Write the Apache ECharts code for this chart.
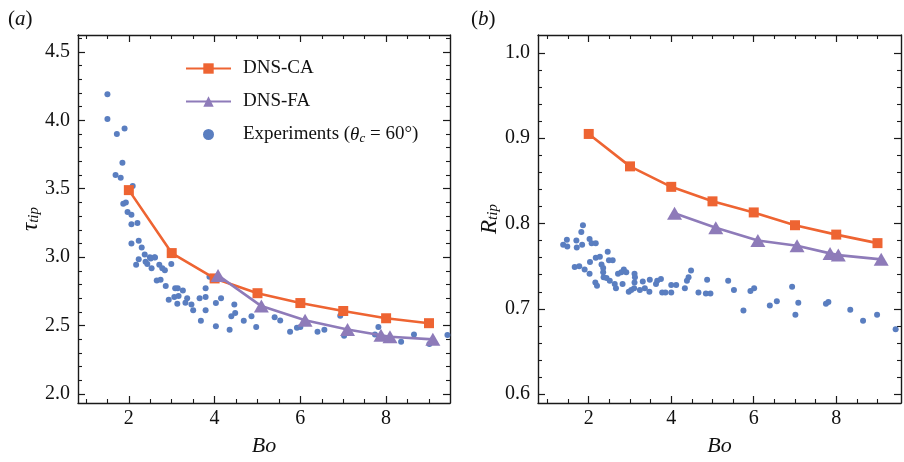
<!DOCTYPE html>
<html><head><meta charset="utf-8">
<script src="https://cdn.jsdelivr.net/npm/echarts@6/dist/echarts.min.js"></script>
<style>html,body{margin:0;padding:0;background:#fff}#c{width:904px;height:462px}</style>
</head><body><div id="c"></div>
<script>
// ---- Panel (a): tau_tip vs Bo ----
const boCA_a = [2, 3, 4, 5, 6, 7, 8, 9];
const tauCA = [3.49, 3.03, 2.845, 2.737, 2.665, 2.607, 2.554, 2.518];
const boFA_a = [4.08, 5.09, 6.11, 7.10, 7.88, 8.09, 9.09];
const tauFA = [2.867, 2.643, 2.54, 2.472, 2.43, 2.419, 2.40];
const expBo_a = [1.50,1.50,1.72,1.90,1.85,1.69,1.81,2.09,1.87,1.93,1.97,2.06,2.06,2.20,2.06,2.23,2.30,2.37,2.49,2.60,
  2.23,2.17,2.39,2.43,2.51,2.61,2.53,2.71,2.78,2.84,2.99,2.65,2.74,2.86,3.08,3.14,3.26,2.93,3.06,3.16,3.13,3.36,3.32,3.46,3.50,3.65,3.79,3.79,3.88,3.79,3.68,4.03,4.15,4.03,4.35,4.46,4.39,4.48,4.68,4.86,4.97,
  5.40,5.53,5.76,5.92,6.00,6.40,6.56,6.93,7.02,7.82,7.74,8.35,8.65,9.01,9.43];
const expTau = [4.19,4.01,3.90,3.94,3.69,3.60,3.58,3.52,3.39,3.40,3.33,3.31,3.24,3.25,3.10,3.12,3.07,3.02,3.00,3.00,
  2.985,2.944,2.966,2.95,2.99,2.997,2.92,2.944,2.92,2.905,2.95,2.829,2.836,2.79,2.773,2.773,2.757,2.689,2.71,2.717,2.66,2.70,2.667,2.655,2.612,2.70,2.71,2.773,2.858,2.612,2.535,2.665,2.70,2.496,2.47,2.655,2.569,2.593,2.535,2.569,2.49,
  2.561,2.537,2.455,2.484,2.491,2.455,2.47,2.573,2.426,2.491,2.436,2.383,2.436,2.366,2.431];

// ---- Panel (b): R_tip vs Bo ----
const boCA_b = [2, 3, 4, 5, 6, 7, 8, 9];
const rCA = [0.905, 0.867, 0.843, 0.826, 0.813, 0.798, 0.787, 0.777];
const boFA_b = [4.08, 5.08, 6.10, 7.05, 7.85, 8.05, 9.09];
const rFA = [0.812, 0.795, 0.780, 0.774, 0.765, 0.763, 0.758];
const expBo_b = [1.38,1.48,1.47,1.70,1.71,1.82,1.86,1.84,2.02,2.07,2.17,1.66,1.77,1.90,2.03,2.02,2.17,2.27,2.46,2.49,2.58,2.31,2.35,2.35,2.36,2.43,2.16,2.20,2.51,2.63,2.66,2.71,2.79,2.85,2.91,2.82,2.97,3.03,3.11,3.12,3.11,3.10,3.24,3.31,3.36,3.48,3.47,3.66,3.75,3.63,3.78,3.86,4.00,4.12,4.00,4.33,4.38,4.42,4.48,4.66,4.87,4.84,4.95,
  5.38,5.52,5.75,5.92,6.01,6.39,6.56,6.93,7.08,7.01,7.75,7.81,8.34,8.65,8.99,9.44];
const expR = [0.775,0.773,0.781,0.780,0.772,0.790,0.798,0.775,0.782,0.777,0.777,0.749,0.750,0.746,0.755,0.741,0.760,0.761,0.767,0.757,0.757,0.752,0.748,0.743,0.737,0.736,0.731,0.727,0.733,0.729,0.724,0.741,0.743,0.746,0.743,0.729,0.720,0.722,0.741,0.737,0.731,0.724,0.722,0.732,0.724,0.734,0.720,0.733,0.735,0.729,0.719,0.719,0.728,0.728,0.719,0.724,0.733,0.737,0.745,0.719,0.734,0.718,0.718,
  0.733,0.722,0.698,0.721,0.724,0.704,0.709,0.726,0.707,0.693,0.706,0.708,0.699,0.686,0.693,0.676];

// ---- Tick values ----
const xMajor = [2, 4, 6, 8];
const xMinor = [1, 1.5, 2.5, 3, 3.5, 4.5, 5, 5.5, 6.5, 7, 7.5, 8.5, 9];
const yMajorA = [2.0, 2.5, 3.0, 3.5, 4.0, 4.5];
const yMinorA = [2.1,2.2,2.3,2.4,2.6,2.7,2.8,2.9,3.1,3.2,3.3,3.4,3.6,3.7,3.8,3.9,4.1,4.2,4.3,4.4,4.6];
const yMajorB = [0.6, 0.7, 0.8, 0.9, 1.0];
const yMinorB = [0.62,0.64,0.66,0.68,0.72,0.74,0.76,0.78,0.82,0.84,0.86,0.88,0.92,0.94,0.96,0.98];

const FONT = "'Liberation Serif', 'DejaVu Serif', serif";
const AX = '#1a1a1a';
const ORANGE = '#EE6432';
const PURPLE = '#8E7BB9';
const BLUE = '#5A7EC0';

const zip = (xs, ys) => xs.map((x, i) => [x, ys[i]]);

function xAxes(grid, min, max) {
  const base = {gridIndex: grid, type: 'value', min: min, max: max, splitLine: {show: false}, scale: true};
  const line = {show: true, onZero: false, lineStyle: {color: AX, width: 1.4}};
  return [
    Object.assign({}, base, {position: 'bottom', axisLine: line,
      axisTick: {show: true, inside: true, length: 7, customValues: xMajor, lineStyle: {color: AX, width: 1.2}},
      axisLabel: {show: true, customValues: xMajor, margin: 6, color: '#111', fontFamily: FONT, fontSize: 20},
      name: 'Bo', nameLocation: 'middle', nameGap: 32, nameMoveOverlap: false,
      nameTextStyle: {fontFamily: FONT, fontSize: 22, fontStyle: 'italic', color: '#111'}}),
    Object.assign({}, base, {position: 'bottom', axisLine: {show: false, onZero: false},
      axisTick: {show: true, inside: true, length: 4, customValues: xMinor, lineStyle: {color: AX, width: 1.1}},
      axisLabel: {show: false}}),
    Object.assign({}, base, {position: 'top', axisLine: line,
      axisTick: {show: true, inside: true, length: 7, customValues: xMajor, lineStyle: {color: AX, width: 1.2}},
      axisLabel: {show: false}}),
    Object.assign({}, base, {position: 'top', axisLine: {show: false, onZero: false},
      axisTick: {show: true, inside: true, length: 4, customValues: xMinor, lineStyle: {color: AX, width: 1.1}},
      axisLabel: {show: false}})
  ];
}
function yAxes(grid, min, max, major, minor, name, nameGap) {
  const base = {gridIndex: grid, type: 'value', min: min, max: max, splitLine: {show: false}, scale: true};
  const line = {show: true, onZero: false, lineStyle: {color: AX, width: 1.4}};
  return [
    Object.assign({}, base, {position: 'left', axisLine: line,
      axisTick: {show: true, inside: true, length: 7, customValues: major, lineStyle: {color: AX, width: 1.2}},
      axisLabel: {show: true, customValues: major, margin: 8, color: '#111', fontFamily: FONT, fontSize: 20,
        formatter: v => v.toFixed(1)},
      name: name, nameLocation: 'middle', nameGap: nameGap, nameMoveOverlap: false,
      nameTextStyle: {fontFamily: FONT, color: '#111',
        rich: {t: {fontFamily: FONT, fontSize: 23, fontStyle: 'italic', color: '#111'},
               s: {fontFamily: FONT, fontSize: 15, fontStyle: 'italic', color: '#111', padding: [8, 0, 0, 0]}}}}),
    Object.assign({}, base, {position: 'left', axisLine: {show: false, onZero: false},
      axisTick: {show: true, inside: true, length: 4, customValues: minor, lineStyle: {color: AX, width: 1.1}},
      axisLabel: {show: false}}),
    Object.assign({}, base, {position: 'right', axisLine: line,
      axisTick: {show: true, inside: true, length: 7, customValues: major, lineStyle: {color: AX, width: 1.2}},
      axisLabel: {show: false}}),
    Object.assign({}, base, {position: 'right', axisLine: {show: false, onZero: false},
      axisTick: {show: true, inside: true, length: 4, customValues: minor, lineStyle: {color: AX, width: 1.1}},
      axisLabel: {show: false}})
  ];
}

const chart = echarts.init(document.getElementById('c'), null, {renderer: 'canvas'});
const panelTitle = (letter, left) => ({
  text: '{p|(}{a|' + letter + '}{p|)}', left: left, top: 4,
  textStyle: {fontWeight: 'normal', rich: {
    p: {fontFamily: FONT, fontSize: 21, fontWeight: 'normal', color: '#111'},
    a: {fontFamily: FONT, fontSize: 21, fontWeight: 'normal', fontStyle: 'italic', color: '#111'}}}
});

const option = {
  animation: false,
  backgroundColor: '#fff',
  title: [panelTitle('a', 3), panelTitle('b', 466)],
  grid: [
    {left: 78, right: 454, top: 35, bottom: 55, containLabel: false},
    {left: 538, right: 3, top: 35, bottom: 55, containLabel: false}
  ],
  xAxis: [].concat(xAxes(0, 0.814, 9.49), xAxes(1, 0.77, 9.57)),
  yAxis: [].concat(
    yAxes(0, 1.935, 4.623, yMajorA, yMinorA, '{t|τ}{s|tip}', 36),
    yAxes(1, 0.5896, 1.021, yMajorB, yMinorB, '{t|R}{s|tip}', 37)),
  legend: {
    orient: 'vertical', left: 180, top: 54, itemWidth: 45, itemHeight: 13, itemGap: 14,
    data: ['DNS-CA', 'DNS-FA',
      {name: 'Experiments', itemStyle: {color: BLUE, borderColor: '#fff', borderWidth: 2}}],
    textStyle: {fontFamily: FONT, fontSize: 19, color: '#111', padding: [0, 0, 0, 7],
      rich: {i: {fontFamily: FONT, fontSize: 19, fontStyle: 'italic', color: '#111'},
             s: {fontFamily: FONT, fontSize: 13, fontStyle: 'italic', color: '#111', padding: [8, 0, 0, 0]}}},
    formatter: n => n === 'Experiments' ? 'Experiments ({i|θ}{s|c} = 60°)' : n
  },
  series: [
    {name: 'Experiments', type: 'scatter', xAxisIndex: 0, yAxisIndex: 0, z: 2,
     symbol: 'circle', symbolSize: 6, itemStyle: {color: BLUE, opacity: 1}, data: zip(expBo_a, expTau)},
    {name: 'DNS-CA', type: 'line', xAxisIndex: 0, yAxisIndex: 0, z: 3,
     symbol: 'rect', symbolSize: 10, lineStyle: {color: ORANGE, width: 2.6}, itemStyle: {color: ORANGE},
     data: zip(boCA_a, tauCA)},
    {name: 'DNS-FA', type: 'line', xAxisIndex: 0, yAxisIndex: 0, z: 4,
     symbol: 'triangle', symbolSize: [15, 13], lineStyle: {color: PURPLE, width: 2.6}, itemStyle: {color: PURPLE},
     data: zip(boFA_a, tauFA)},
    {name: 'Experiments', type: 'scatter', xAxisIndex: 4, yAxisIndex: 4, z: 2,
     symbol: 'circle', symbolSize: 6, itemStyle: {color: BLUE, opacity: 1}, data: zip(expBo_b, expR)},
    {name: 'DNS-CA', type: 'line', xAxisIndex: 4, yAxisIndex: 4, z: 3,
     symbol: 'rect', symbolSize: 10, lineStyle: {color: ORANGE, width: 2.6}, itemStyle: {color: ORANGE},
     data: zip(boCA_b, rCA)},
    {name: 'DNS-FA', type: 'line', xAxisIndex: 4, yAxisIndex: 4, z: 4,
     symbol: 'triangle', symbolSize: [15, 13], lineStyle: {color: PURPLE, width: 2.6}, itemStyle: {color: PURPLE},
     data: zip(boFA_b, rFA)}
  ]
};
chart.setOption(option);
</script></body></html>
